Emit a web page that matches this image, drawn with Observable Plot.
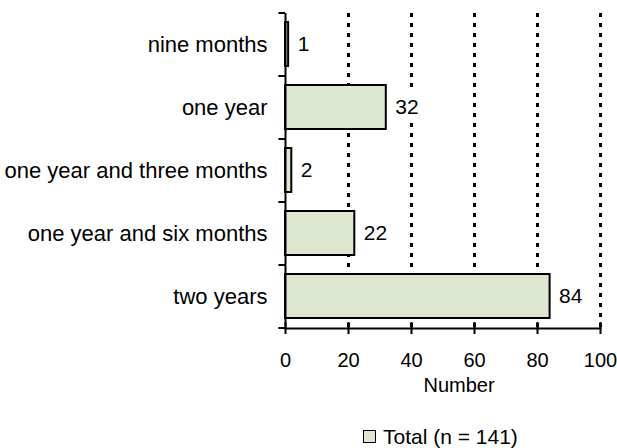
<!DOCTYPE html>
<html><head><meta charset="utf-8">
<script src="https://cdn.jsdelivr.net/npm/d3@7"></script>
<script src="https://cdn.jsdelivr.net/npm/@observablehq/plot@0.6"></script>
<style>
body{margin:0;background:#fff;font-family:"Liberation Sans",Arial,sans-serif;}
#wrap{position:relative;width:617px;height:448px;}
#legend{position:relative;height:32px;}
#sw{position:absolute;left:363px;top:14px;width:11px;height:11px;border:1.5px solid #000;background:#dde7cf;}
#lt{position:absolute;left:383px;top:9px;font-size:21px;line-height:24px;color:#000;}
</style>
</head><body><div id="wrap"><div id="chart"></div><div id="legend"><div id="sw"></div><div id="lt"></div></div></div>
<script>
const categories = ["nine months", "one year", "one year and three months", "one year and six months", "two years"];
const values = [1, 32, 2, 22, 84];
const xTicks = [0, 20, 40, 60, 80, 100];
const gridTicks = [20, 40, 60, 80, 100];
const xLabel = "Number";
const legendLabel = "Total (n = 141)";

const data = categories.map((c, i) => ({category: c, value: values[i]}));
const fillColor = "#dde7cf";
const font = "'Liberation Sans', Arial, sans-serif";

const plot = Plot.plot({
  width: 617, height: 416,
  marginTop: 13, marginBottom: 88, marginLeft: 285, marginRight: 17,
  style: {fontFamily: font, fontSize: "20px", color: "#000", background: "#fff", overflow: "visible"},
  x: {domain: [0, 100], ticks: xTicks},
  y: {domain: categories, paddingInner: 0.3, paddingOuter: 0.15},
  marks: [
    Plot.ruleX(gridTicks, {stroke: "#000", strokeWidth: 3, strokeDasharray: "4,6"}),
    Plot.barX(data, {x: "value", y: "category", fill: fillColor, stroke: "#000", strokeWidth: 2}),
    Plot.text(data, {x: "value", y: "category", text: d => String(d.value), textAnchor: "start", dx: 9, fontSize: 21, fill: "#000", stroke: "#fff", strokeWidth: 16, paintOrder: "stroke"}),
    Plot.ruleX([0], {stroke: "#000", strokeWidth: 2}),
    Plot.frame({anchor: "bottom", stroke: "#000", strokeWidth: 2}),
    Plot.ruleY(categories, {y: d => d, x1: -2.1, x2: 0, dy: -31.5, stroke: "#000", strokeWidth: 2}),
    Plot.ruleY(categories.slice(-1), {y: d => d, x1: -2.1, x2: 0, dy: 31.5, stroke: "#000", strokeWidth: 2}),
    Plot.tickX(xTicks, {x: d => d, insetTop: 309, stroke: "#000", strokeWidth: 2}),
    Plot.axisX({ticks: xTicks, tickSize: 6, tickPadding: 18, fontSize: 20, strokeWidth: 2, label: null}),
    Plot.axisY({tickSize: 0, tickPadding: 18, fontSize: 22, label: null}),
    Plot.text([xLabel], {frameAnchor: "bottom", dy: 57, dx: 16, fontSize: 20, lineAnchor: "middle", fill: "#000"})
  ]
});
document.getElementById("chart").appendChild(plot);
document.getElementById("lt").textContent = legendLabel;
</script>
</body></html>
